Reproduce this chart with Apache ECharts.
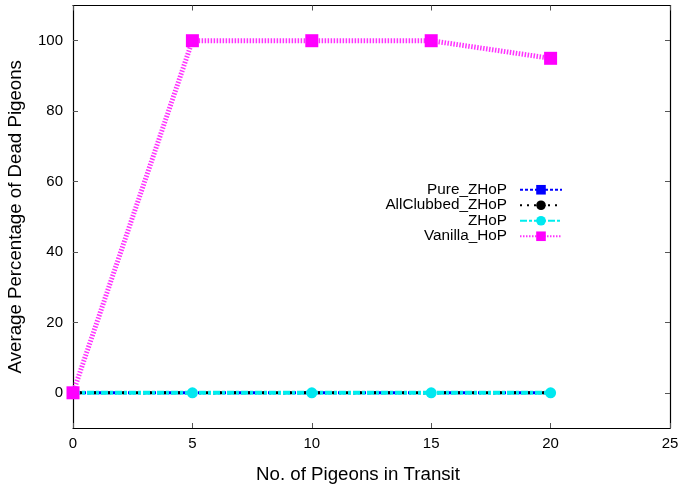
<!DOCTYPE html>
<html>
<head>
<meta charset="utf-8">
<script src="https://cdn.jsdelivr.net/npm/echarts@6/dist/echarts.min.js"></script>
<style>
  html, body { margin: 0; padding: 0; background: #fff; }
  #chart { width: 679px; height: 487px; }
</style>
</head>
<body>
<div id="chart"></div>
<script>
// Pigeons in transit vs. average percentage of dead pigeons
const pigeonsInTransit = [0, 5, 10, 15, 20];
const pureZHoP = [0, 0, 0, 0, 0];
const allClubbedZHoP = [0, 0, 0, 0, 0];
const zHoP = [0, 0, 0, 0, 0];
const vanillaHoP = [0, 100, 100, 100, 95];
const yTickValues = [0, 20, 40, 60, 80, 100];

const pairs = (ys) => pigeonsInTransit.map((x, i) => [x, ys[i]]);

const font = 'Liberation Sans, Arial, sans-serif';

const chart = echarts.init(document.getElementById('chart'));

const frameLine = { show: true, onZero: false, lineStyle: { color: '#000', width: 1.2 } };
const tick = { show: true, inside: true, length: 5, lineStyle: { color: '#555', width: 1 } };

chart.setOption({
  animation: false,
  backgroundColor: '#fff',
  grid: { left: 73, right: 9, top: 5.5, bottom: 59, containLabel: false, outerBoundsMode: 'none' },
  legend: {
    orient: 'vertical',
    right: 116,
    top: 182,
    align: 'right',
    padding: 0,
    itemWidth: 42,
    itemHeight: 12,
    itemGap: 0,
    textStyle: { fontFamily: font, fontSize: 15.3, lineHeight: 15.5, color: '#000', width: 121, align: 'right', padding: [0, 8, 0, 0] },
    data: ['Pure_ZHoP', 'AllClubbed_ZHoP', 'ZHoP', 'Vanilla_HoP']
  },
  xAxis: [
    {
      type: 'value', min: 0, max: 25, interval: 5,
      name: 'No. of Pigeons in Transit', nameLocation: 'middle', nameGap: 37,
      nameTextStyle: { fontFamily: font, fontSize: 18.7, color: '#000', padding: [0, 27, 0, 0] },
      axisLine: frameLine, axisTick: tick,
      axisLabel: { fontFamily: font, fontSize: 15, color: '#000', margin: 8 },
      splitLine: { show: false }
    },
    {
      type: 'value', min: 0, max: 25, interval: 5, position: 'top',
      axisLine: frameLine, axisTick: tick, axisLabel: { show: false }, splitLine: { show: false }
    }
  ],
  yAxis: [
    {
      type: 'value', min: -10, max: 110,
      name: 'Average Percentage of Dead Pigeons', nameLocation: 'middle', nameGap: 48,
      nameTextStyle: { fontFamily: font, fontSize: 18.7, color: '#000' },
      axisLine: frameLine,
      axisTick: Object.assign({}, tick, { customValues: yTickValues }),
      axisLabel: { fontFamily: font, fontSize: 15, color: '#000', margin: 10, customValues: yTickValues },
      splitLine: { show: false }
    },
    {
      type: 'value', min: -10, max: 110, position: 'right',
      axisLine: frameLine,
      axisTick: Object.assign({}, tick, { customValues: yTickValues }),
      axisLabel: { show: false, customValues: yTickValues },
      splitLine: { show: false }
    }
  ],
  series: [
    {
      name: 'Pure_ZHoP', type: 'line', data: pairs(pureZHoP),
      symbol: 'rect', symbolSize: 6, color: '#0000ff',
      lineStyle: { color: '#0000ff', width: 3, type: [3, 2] },
      itemStyle: { color: '#0000ff' }
    },
    {
      name: 'AllClubbed_ZHoP', type: 'line', data: pairs(allClubbedZHoP),
      symbol: 'circle', symbolSize: 8, color: '#000',
      lineStyle: { color: '#000', width: 3, type: [2, 5] },
      itemStyle: { color: '#000' }
    },
    {
      name: 'ZHoP', type: 'line', data: pairs(zHoP),
      symbol: 'circle', symbolSize: 11, color: '#00e5ee',
      lineStyle: { color: '#00eeee', width: 4, type: [7, 2, 3, 2] },
      itemStyle: { color: '#00e8f0' }
    },
    {
      name: 'Vanilla_HoP', type: 'line', data: pairs(vanillaHoP),
      symbol: 'rect', symbolSize: 13, color: '#ff00ff',
      lineStyle: { color: '#ff33ff', width: 5, type: [1.5, 1.5] },
      itemStyle: { color: '#ff00ff' }
    }
  ]
});
</script>
</body>
</html>
